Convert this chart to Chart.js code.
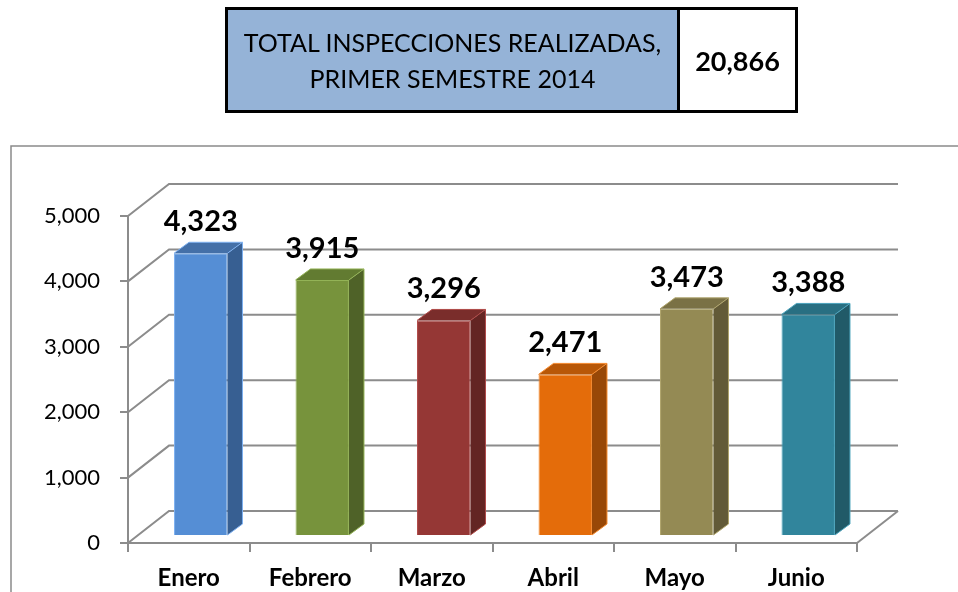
<!DOCTYPE html>
<html>
<head>
<meta charset="utf-8">
<script src="https://cdn.jsdelivr.net/npm/chart.js@4.4.1/dist/chart.umd.min.js"></script>
<style>
    body { margin: 0; width: 958px; height: 592px; overflow: hidden; background: #fff; font-family: Lato, sans-serif; }
    #chartWrap { position: absolute; left: 0; top: 0; width: 958px; height: 592px; }
    #totalBox { position: absolute; left: 225px; top: 7px; width: 573px; height: 106px; box-sizing: border-box; border: 3px solid #000; display: flex; }
    #totalLabel { width: 449px; background: #95B3D7; border-right: 3px solid #000; display: flex; align-items: center; justify-content: center; text-align: center; font-size: 25px; line-height: 36px; color: #000; }
    #totalValue { flex: 1; display: flex; align-items: center; justify-content: center; font-weight: bold; font-size: 27px; color: #000; }
</style>
</head>
<body>
<div id="chartWrap"><canvas id="inspChart" width="958" height="592"></canvas></div>
<div id="totalBox">
    <div id="totalLabel"></div>
    <div id="totalValue"></div>
</div>
<script>
    const months = ['Enero', 'Febrero', 'Marzo', 'Abril', 'Mayo', 'Junio'];
    const inspections = [4323, 3915, 3296, 2471, 3473, 3388];
    const totalTitle = ['TOTAL INSPECCIONES REALIZADAS,', 'PRIMER SEMESTRE 2014'];
    const totalValue = '20,866';

    const frontColors = ['#558ED5', '#77933C', '#953735', '#E46C0A', '#948A54', '#31859C'];
    const sideColors = ['#375F92', '#4F6228', '#632523', '#984807', '#625A37', '#215A68'];
    const topColors = ['#4470A8', '#627B31', '#7A2D2B', '#B85707', '#7A7145', '#286F82'];
    const edgeColors = ['#7DB0F0', '#93B356', '#B04A48', '#F58A2E', '#B0A56C', '#4BA3BC'];

    document.getElementById('totalLabel').innerHTML = totalTitle.join('<br>');
    document.getElementById('totalValue').textContent = totalValue;

    const fmt = v => v.toLocaleString('en-US');
    const wallDepth = { x: 41, y: -32 };
    const barShift = { x: 12, y: -7 };
    const barDepth = { x: 15, y: -11 };
    const lineColor = '#8C8C8C';

    const threeD = {
        id: 'threeD',
        beforeDraw(chart) {
            const c = chart.ctx;
            c.save();
            c.strokeStyle = '#8A8A8A';
            c.lineWidth = 1.5;
            c.beginPath();
            c.moveTo(11, 600);
            c.lineTo(11, 146);
            c.lineTo(970, 146);
            c.stroke();
            c.restore();
        },
        beforeDatasetsDraw(chart) {
            const c = chart.ctx;
            const { left, right, bottom } = chart.chartArea;
            const y = chart.scales.y;
            c.save();
            c.strokeStyle = lineColor;
            c.lineWidth = 2;
            y.ticks.forEach(t => {
                const yf = y.getPixelForValue(t.value);
                c.beginPath();
                c.moveTo(left, yf);
                c.lineTo(left + wallDepth.x, yf + wallDepth.y);
                c.lineTo(right + wallDepth.x, yf + wallDepth.y);
                c.stroke();
            });
            c.beginPath();
            c.moveTo(right, bottom);
            c.lineTo(right + wallDepth.x, bottom + wallDepth.y);
            c.stroke();
            c.restore();

            // bars sit a little way back from the front plane
            c.save();
            c.translate(barShift.x, barShift.y);
        },
        afterDatasetsDraw(chart) {
            const c = chart.ctx;
            const meta = chart.getDatasetMeta(0);
            meta.data.forEach((bar, i) => {
                const l = bar.x - bar.width / 2;
                const r = bar.x + bar.width / 2;
                const top = bar.y;
                const base = bar.base;
                c.fillStyle = sideColors[i];
                c.beginPath();
                c.moveTo(r, top);
                c.lineTo(r + barDepth.x, top + barDepth.y);
                c.lineTo(r + barDepth.x, base + barDepth.y);
                c.lineTo(r, base);
                c.closePath();
                c.fill();
                c.fillStyle = topColors[i];
                c.beginPath();
                c.moveTo(l, top);
                c.lineTo(l + barDepth.x, top + barDepth.y);
                c.lineTo(r + barDepth.x, top + barDepth.y);
                c.lineTo(r, top);
                c.closePath();
                c.fill();
                c.strokeStyle = edgeColors[i];
                c.lineWidth = 1;
                c.beginPath();
                c.moveTo(l, top);
                c.lineTo(l + barDepth.x, top + barDepth.y);
                c.lineTo(r + barDepth.x, top + barDepth.y);
                c.lineTo(r + barDepth.x, base + barDepth.y);
                c.lineTo(r, base);
                c.moveTo(r, top);
                c.lineTo(r + barDepth.x, top + barDepth.y);
                c.stroke();
            });
            c.restore();

            c.save();
            c.fillStyle = '#000';
            c.font = 'bold 29px Lato';
            c.textAlign = 'center';
            c.textBaseline = 'alphabetic';
            meta.data.forEach((bar, i) => {
                c.fillText(fmt(inspections[i]), bar.x + barShift.x, bar.y + barShift.y - 22);
            });
            c.restore();
        }
    };

    new Chart(document.getElementById('inspChart'), {
        type: 'bar',
        data: {
            labels: months,
            datasets: [{
                data: inspections,
                backgroundColor: frontColors,
                borderColor: edgeColors,
                borderWidth: 1,
                barPercentage: 0.44,
                categoryPercentage: 1,
                clip: false
            }]
        },
        options: {
            responsive: false,
            devicePixelRatio: 1,
            animation: false,
            layout: { padding: { top: 216, right: 101, left: 0, bottom: 0 } },
            plugins: {
                legend: { display: false },
                tooltip: { enabled: false }
            },
            scales: {
                x: {
                    offset: true,
                    grid: { offset: true, drawOnChartArea: false, drawTicks: true, tickLength: 9, color: lineColor, lineWidth: 2 },
                    border: { display: true, color: lineColor, width: 2 },
                    ticks: { color: '#000', padding: 12, font: { family: 'Lato', size: 24, weight: 'bold' } },
                    afterFit(scale) { scale.height = 49; }
                },
                y: {
                    min: 0,
                    max: 5000,
                    grid: { drawOnChartArea: false, drawTicks: true, tickLength: 8, color: lineColor, lineWidth: 2 },
                    border: { display: true, color: lineColor, width: 2 },
                    ticks: { stepSize: 1000, color: '#000', padding: 20, font: { family: 'Lato', size: 22 }, callback: v => fmt(v) },
                    afterFit(scale) { scale.width = 128; }
                }
            }
        },
        plugins: [threeD]
    });
</script>
</body>
</html>
